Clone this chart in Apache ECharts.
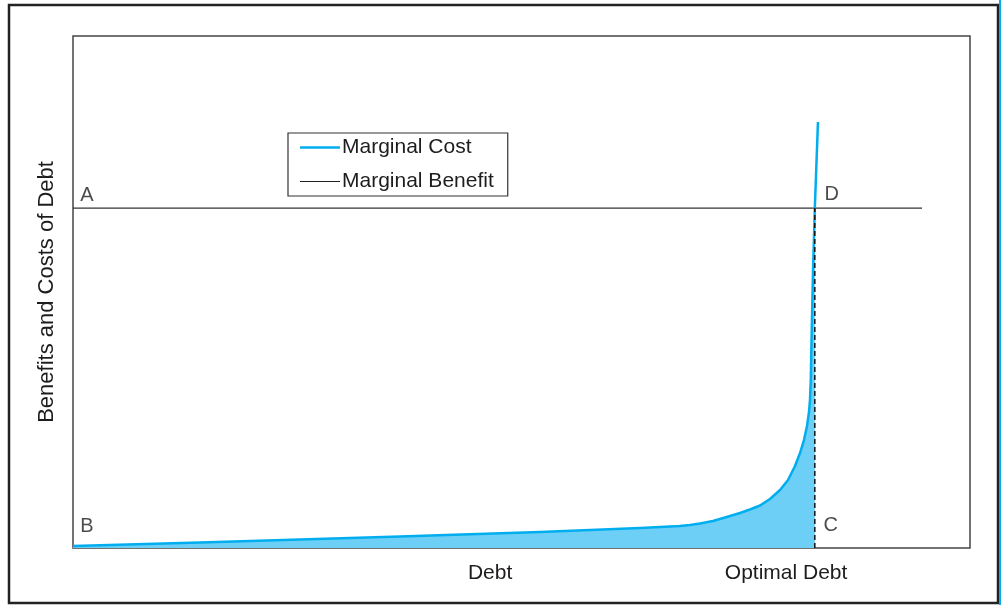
<!DOCTYPE html>
<html>
<head>
<meta charset="utf-8">
<script src="https://cdn.jsdelivr.net/npm/echarts@6/dist/echarts.min.js"></script>
<style>html,body{margin:0;padding:0;background:#fff}#c{width:1001px;height:605px}</style>
</head>
<body>
<div id="c"></div>
<script>
// ---- data ----
var costX = [0, 14.16, 36.45, 52.06, 63.21, 67.67, 68.78, 69.9, 71.35, 72.69, 74.36, 75.47, 76.59, 77.7, 78.82, 79.71, 80.49, 81.05, 81.49, 81.83, 82.05, 82.16, 82.25, 82.3, 82.38, 82.5, 82.7];
var costY = [0.39, 1.07, 2.25, 3.13, 3.91, 4.30, 4.49, 4.79, 5.27, 5.96, 6.84, 7.52, 8.30, 9.57, 11.33, 13.28, 16.02, 18.55, 21.09, 23.83, 26.56, 28.91, 32.81, 37.70, 44.53, 54.30, 66.4];
var costUpperX = [82.7, 83.05];
var costUpperY = [66.4, 83.2];
var benefitX = [0, 94.65];
var benefitY = [66.4, 66.4];
var optimalDebt = 82.7;
var benefitLevel = 66.4;
var xTickValues = [46.5, 79.5];
var xTickLabels = ['Debt', 'Optimal Debt'];
var pointLabels = ['A', 'B', 'C', 'D'];
var pointX = [0, 0, optimalDebt, optimalDebt];
var pointY = [benefitLevel, 0, 0, benefitLevel];
var yAxisTitle = 'Benefits and Costs of Debt';
var seriesNames = ['Marginal Cost', 'Marginal Benefit'];

function zip(a, b) { return a.map(function (v, i) { return [v, b[i]]; }); }

var FONT = 'Liberation Sans';
var TXT = '#1f1c1d';
var chart = echarts.init(document.getElementById('c'), null, { renderer: 'canvas' });
var labelOffsets = [[14, -13], [14, -22], [16, -23], [17, -14]];

chart.setOption({
  animation: false,
  backgroundColor: '#fff',
  textStyle: { fontFamily: FONT },
  grid: { left: 73, top: 36, right: 31, bottom: 57, show: true, borderColor: '#444', borderWidth: 1.5, backgroundColor: 'transparent' },
  xAxis: {
    type: 'value', min: 0, max: 100,
    axisLine: { show: false }, axisTick: { show: false }, splitLine: { show: false },
    axisLabel: {
      customValues: xTickValues,
      formatter: function (v) { var i = xTickValues.indexOf(v); return i >= 0 ? xTickLabels[i] : ''; },
      fontSize: 21, color: TXT, fontFamily: FONT, margin: 15
    }
  },
  yAxis: {
    type: 'value', min: 0, max: 100,
    axisLine: { show: false }, axisTick: { show: false }, splitLine: { show: false },
    axisLabel: { show: false },
    name: yAxisTitle, nameLocation: 'middle', nameGap: 15, nameRotate: 90,
    nameTextStyle: { fontSize: 22, color: TXT, fontFamily: FONT }
  },
  legend: {
    orient: 'vertical', left: 288, top: 133,
    data: [
      { name: seriesNames[0], icon: 'path://M0,0H40V2.6H0Z', itemStyle: { color: '#00aeef', borderWidth: 0 } },
      { name: seriesNames[1], icon: 'path://M0,0H40V1.2H0Z', itemStyle: { color: '#222', borderWidth: 0 } }
    ],
    symbolKeepAspect: true,
    backgroundColor: '#fff',
    borderColor: '#333', borderWidth: 1.2,
    padding: [4, 14, 4, 12],
    itemWidth: 40, itemHeight: 20, itemGap: 13,
    textStyle: { fontSize: 21, color: TXT, fontFamily: FONT, lineHeight: 20, padding: [0, 0, 0, -3] }
  },
  graphic: [
    { type: 'rect', shape: { x: 9, y: 5, width: 989, height: 598 }, style: { fill: 'none', stroke: '#222', lineWidth: 2.5 }, silent: true },
    { type: 'rect', shape: { x: 999, y: 0, width: 2, height: 605 }, style: { fill: '#00aeef' }, silent: true }
  ],
  series: [
    {
      name: seriesNames[0], type: 'line', data: zip(costX, costY), symbol: 'none',
      smooth: false,
      color: '#00aeef',
      lineStyle: { color: '#00aeef', width: 2.5, join: 'round' },
      areaStyle: { color: '#6dcff6', opacity: 1 },
      z: 3
    },
    {
      name: seriesNames[0], type: 'line', data: zip(costUpperX, costUpperY), symbol: 'none',
      color: '#00aeef',
      lineStyle: { color: '#00aeef', width: 2.5 }, z: 4
    },
    {
      name: seriesNames[1], type: 'line', data: zip(benefitX, benefitY), symbol: 'none',
      color: '#222',
      lineStyle: { color: '#333', width: 1.2 }, z: 2
    },
    {
      name: 'optimal', type: 'line', data: [[optimalDebt, 0], [optimalDebt, benefitLevel]], symbol: 'none',
      lineStyle: { color: '#111', width: 1.5, type: [5, 3] }, z: 5
    },
    {
      name: 'points', type: 'scatter', symbolSize: 0,
      data: pointLabels.map(function (n, i) {
        return {
          value: [pointX[i], pointY[i]], name: n,
          label: { show: true, formatter: n, position: 'inside', offset: labelOffsets[i], fontSize: 20, color: TXT, fontFamily: FONT }
        };
      }),
      z: 6
    }
  ]
});
</script>
</body>
</html>
